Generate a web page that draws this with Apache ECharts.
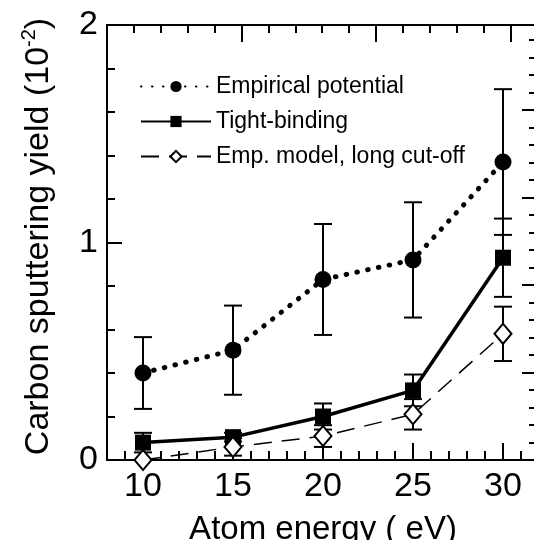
<!DOCTYPE html>
<html lang="en" style="height: 100%">

<head>
  <meta charset="utf-8">
</head>

<body style="height: 100%; margin: 0; background-color: #fff">
  <div id="container" style="width: 534px; height: 540px"></div>

  <script type="text/javascript" src="https://cdn.jsdelivr.net/npm/echarts@6.0.0/dist/echarts.min.js"></script>

  <script type="text/javascript">
    // ---- data ----
    var energies = [10, 15, 20, 25, 30];

    var empYield = [0.40, 0.505, 0.83, 0.92, 1.37];
    var empErr = [0.165, 0.205, 0.255, 0.265, 0.335];

    var tbYield = [0.08, 0.105, 0.20, 0.32, 0.93];
    var tbErr = [0.045, 0.02, 0.06, 0.073, 0.18];

    var longYield = [0.0, 0.06, 0.11, 0.21, 0.58];
    var longErr = [0, 0.04, 0.05, 0.07, 0.125];

    var xLabelTicks = [10, 15, 20, 25, 30];
    var seriesNames = ['Empirical potential', 'Tight-binding', 'Emp. model, long cut-off'];

    var FONT = 'Liberation Sans, Arial, Helvetica, sans-serif';
    var BLACK = '#000';

    var dom = document.getElementById('container');
    var myChart = echarts.init(dom, null, { renderer: 'canvas' });

    function pairs(xs, ys) {
      return xs.map(function (x, i) { return [x, ys[i]]; });
    }

    // error bars drawn on the same axes as the points
    function errorBars(ys, es) {
      return {
        type: 'custom',
        xAxisIndex: 0,
        yAxisIndex: 0,
        silent: true,
        z: 1,
        clip: false,
        data: energies.map(function (x, i) { return [x, ys[i], es[i]]; }),
        renderItem: function (params, api) {
          var x = api.value(0), y = api.value(1), e = api.value(2);
          if (!e) return;
          var top = api.coord([x, y + e]);
          var bot = api.coord([x, y - e]);
          var hw = 9;
          var st = { stroke: BLACK, lineWidth: 2 };
          return {
            type: 'group',
            children: [
              { type: 'line', shape: { x1: top[0], y1: top[1], x2: bot[0], y2: bot[1] }, style: st },
              { type: 'line', shape: { x1: top[0] - hw, y1: top[1], x2: top[0] + hw, y2: top[1] }, style: st },
              { type: 'line', shape: { x1: bot[0] - hw, y1: bot[1], x2: bot[0] + hw, y2: bot[1] }, style: st }
            ]
          };
        }
      };
    }

    var axisLine = { show: true, onZero: false, lineStyle: { color: BLACK, width: 2 } };
    var noLine = { show: false, onZero: false };
    var tickStyle = { color: BLACK, width: 2 };

    // plain tick-only axis (integer steps)
    function tickAxis(position, max, len, withLine) {
      return {
        type: 'value', position: position, min: 0, max: max, interval: 1,
        axisLine: withLine ? axisLine : noLine,
        axisTick: { inside: true, length: len, lineStyle: tickStyle },
        axisLabel: { show: false },
        splitLine: { show: false }
      };
    }

    var option = {
      animation: false,
      backgroundColor: '#fff',
      grid: { left: 107, top: 25, bottom: 80, right: -5, outerBoundsMode: 'none' },
      legend: {
        data: seriesNames,
        orient: 'vertical',
        left: 135,
        top: 70,
        itemWidth: 70,
        itemHeight: 14,
        itemGap: 12,
        selectedMode: false,
        textStyle: { fontFamily: FONT, fontSize: 23, color: BLACK }
      },
      xAxis: [
        {
          type: 'value', position: 'bottom', min: 8, max: 32, interval: 1,
          axisLine: axisLine,
          axisTick: { inside: true, length: 9, lineStyle: tickStyle },
          axisLabel: { show: false },
          splitLine: { show: false }
        },
        {
          type: 'value', position: 'bottom', min: 8, max: 32,
          axisLine: noLine,
          axisTick: { inside: true, length: 17, lineStyle: tickStyle, customValues: xLabelTicks },
          axisLabel: {
            customValues: xLabelTicks, fontFamily: FONT, fontSize: 34, color: BLACK, margin: 10
          },
          splitLine: { show: false },
          name: 'Atom energy ( eV)',
          nameLocation: 'middle',
          nameGap: 53,
          nameTextStyle: { fontFamily: FONT, fontSize: 33, color: BLACK }
        },
        tickAxis('top', 16.06, 8, true),
        tickAxis('top', 3.212, 17, false)
      ],
      yAxis: [
        {
          type: 'value', position: 'left', min: 0, max: 2, interval: 1,
          axisLine: axisLine,
          axisTick: { inside: true, length: 15, lineStyle: tickStyle },
          axisLabel: { fontFamily: FONT, fontSize: 34, color: BLACK, margin: 9 },
          splitLine: { show: false },
          name: '{a|Carbon sputtering yield (10}{b|-2}{a|)}',
          nameLocation: 'middle',
          nameGap: 48,
          nameTextStyle: {
            padding: [0, 0, 0, 12],
            rich: {
              a: { fontFamily: FONT, fontSize: 34, color: BLACK, lineHeight: 40 },
              b: { fontFamily: FONT, fontSize: 20, color: BLACK, verticalAlign: 'top', lineHeight: 40 }
            }
          }
        },
        tickAxis('left', 10, 8, false),
        tickAxis('right', 24.855, 10, true),
        tickAxis('right', 4.971, 17, false)
      ],
      series: [
        errorBars(empYield, empErr),
        errorBars(tbYield, tbErr),
        errorBars(longYield, longErr),
        {
          name: seriesNames[0],
          type: 'line',
          data: pairs(energies, empYield),
          symbol: 'circle',
          symbolSize: 17,
          clip: false,
          z: 3,
          itemStyle: { color: BLACK },
          lineStyle: { color: BLACK, width: 5, type: [0.5, 10.5], cap: 'round' }
        },
        {
          name: seriesNames[1],
          type: 'line',
          data: pairs(energies, tbYield),
          symbol: 'rect',
          symbolSize: 16,
          clip: false,
          z: 3,
          itemStyle: { color: BLACK },
          lineStyle: { color: BLACK, width: 3.5 }
        },
        {
          name: seriesNames[2],
          type: 'line',
          data: pairs(energies, longYield),
          symbol: 'diamond',
          symbolSize: [17, 20],
          clip: false,
          z: 3,
          itemStyle: { color: '#fff', borderColor: BLACK, borderWidth: 2 },
          lineStyle: { color: BLACK, width: 1.5, type: [18, 10] }
        }
      ]
    };

    myChart.setOption(option);
    window.addEventListener('resize', myChart.resize);
  </script>
</body>

</html>
